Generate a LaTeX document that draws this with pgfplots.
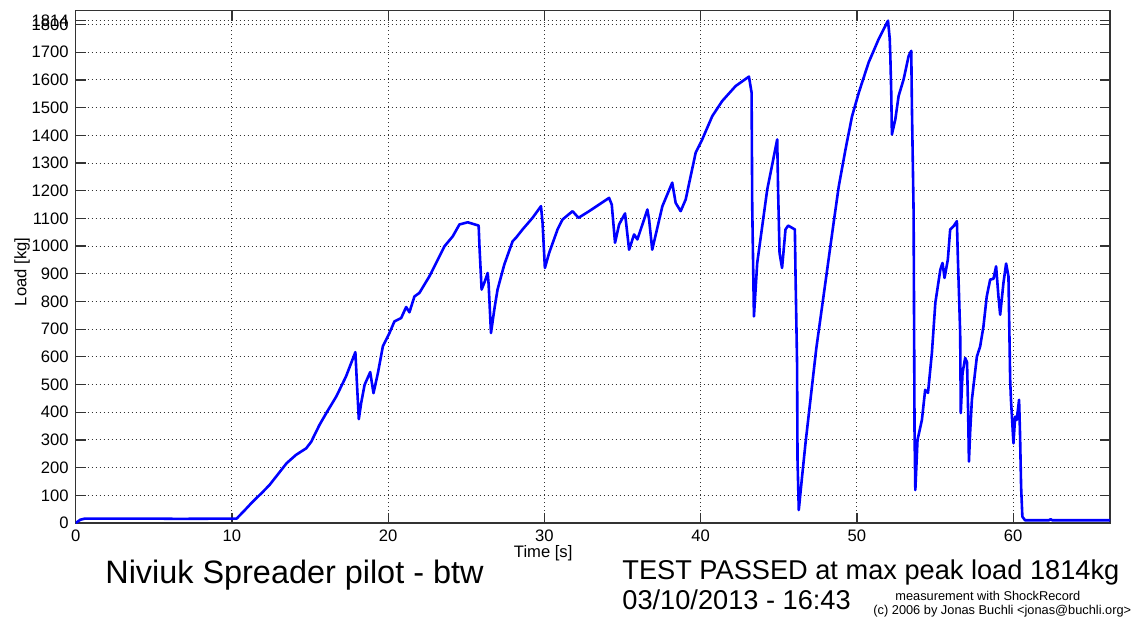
\documentclass[border=0pt]{standalone}
\usepackage{fontspec}
\setmainfont{Liberation Sans}
\usepackage{pgfplots}
\pgfplotsset{compat=1.18}

\begin{document}
\begin{tikzpicture}
\useasboundingbox (-37.85pt,-47.5pt) rectangle (528.65pt,261.5pt);
\begin{axis}[
  at={(0,0)}, anchor=south west,
  scale only axis,
  width=517.15pt, height=256.15pt,
  xmin=0, xmax=66.2, ymin=0, ymax=1850,
  xtick={0,10,...,60},
  ytick={0,100,...,1800},
  extra y ticks={1814},
  extra y tick style={grid=major},
  grid=major,
  major grid style={black!80, line width=0.5pt, dash pattern=on 0.5pt off 1.5pt},
  tick align=inside,
  major tick length=5pt,
  axis line style={black!80, line width=0.6pt},
  every tick/.style={black!80, line width=0.6pt},
  ticklabel style={font=\fontsize{8.3}{10}\selectfont},
  /pgf/number format/assume math mode=true,
  /pgf/number format/1000 sep={},
  xlabel={Time [s]},
  ylabel={Load [kg]},
  label style={font=\fontsize{8.3}{10}\selectfont},
  xlabel style={at={(axis description cs:0.452,-0.0675)}, anchor=base},
  ylabel style={at={(axis description cs:-0.0519,0.49)}, anchor=center},
]
\addplot[blue, line width=1.3pt, line join=round] coordinates {
(0,0) (0.3,12) (0.6,16) (5,16) (6.5,15) (10.0,16) (10.3,16)
(10.8,45) (11.33,77) (11.9,108) (12.4,137) (13.0,180) (13.5,216)
(14.1,246) (14.76,270) (15.08,294) (15.6,354) (16.04,397) (16.68,457)
(17.3,529) (17.9,617) (18.0,505) (18.12,375) (18.27,433) (18.49,499)
(18.85,545) (19.06,469) (19.34,541) (19.66,638) (20.08,686) (20.4,728)
(20.83,740) (21.15,780) (21.36,761) (21.68,818) (22.0,831) (22.64,891)
(23.07,939) (23.6,999) (24.13,1035) (24.56,1078) (25.09,1086) (25.79,1074)
(25.85,990) (25.98,843) (26.15,867) (26.37,903) (26.43,861) (26.58,686)
(26.79,770) (27.0,843) (27.43,933) (27.96,1017) (28.18,1030) (28.6,1060)
(29.24,1102) (29.78,1144) (29.88,1084) (30.03,921) (30.3,975) (30.84,1060)
(31.16,1096) (31.8,1126) (32.18,1102) (32.86,1126) (33.5,1150) (34.14,1174)
(34.31,1150) (34.52,1012) (34.78,1078) (35.16,1118) (35.42,987) (35.74,1042)
(35.95,1024) (36.59,1132) (36.7,1096) (36.9,987) (37.55,1144) (38.18,1229)
(38.4,1156) (38.72,1126) (39.04,1168) (39.68,1337) (40.1,1385) (40.74,1469)
(41.38,1524) (42.24,1578) (43.09,1612) (43.26,1554) (43.3,1144) (43.41,746)
(43.62,939) (44.26,1204) (44.9,1385) (44.96,1192) (45.05,975) (45.21,921)
(45.43,1060) (45.6,1074) (46.03,1060) (46.07,903) (46.17,578) (46.2,228)
(46.28,47) (46.49,167) (46.71,288) (47.4,630) (48.0,875) (48.5,1080)
(48.84,1216) (49.27,1349) (49.69,1469) (50.12,1554) (50.75,1663) (51.39,1747)
(51.99,1814) (52.1,1750) (52.14,1686) (52.2,1550) (52.24,1403) (52.46,1458)
(52.67,1542) (52.99,1602) (53.31,1686) (53.48,1705) (53.52,1506) (53.63,1120)
(53.66,722) (53.69,324) (53.74,119) (53.88,300) (54.16,372) (54.37,481)
(54.55,470) (54.8,614) (55.02,795) (55.34,915) (55.48,939) (55.61,885)
(55.82,951) (55.97,1060) (56.19,1072) (56.4,1090) (56.46,963) (56.61,686)
(56.65,397) (56.76,541) (56.93,596) (57.05,580) (57.12,400) (57.17,222)
(57.25,330) (57.36,445) (57.68,601) (57.89,638) (58.1,710) (58.31,818)
(58.53,879) (58.74,882) (58.91,927) (59.06,818) (59.17,752) (59.38,867)
(59.55,937) (59.7,891) (59.76,686) (59.81,517) (59.86,445) (59.91,397)
(60.02,288) (60.13,384) (60.23,372) (60.38,445) (60.44,324) (60.51,131)
(60.59,23) (60.76,10) (62.3,10) (62.4,14) (62.5,10) (66.2,10)
};
\end{axis}
\node[anchor=base west, inner sep=0pt, font=\fontsize{16.2}{18}\selectfont] at (14.65pt,-30.3pt) {Niviuk Spreader pilot - btw};
\node[anchor=base west, inner sep=0pt, font=\fontsize{13.6}{15}\selectfont] at (273.15pt,-28.4pt) {TEST PASSED at max peak load 1814kg};
\node[anchor=base west, inner sep=0pt, font=\fontsize{13.6}{15}\selectfont] at (273.15pt,-43.4pt) {03/10/2013 - 16:43};
\node[anchor=base west, inner sep=0pt, font=\fontsize{6.4}{7}\selectfont] at (409.65pt,-38.5pt) {measurement with ShockRecord};
\node[anchor=base west, inner sep=0pt, font=\fontsize{6.4}{7}\selectfont] at (398.65pt,-45.5pt) {(c) 2006 by Jonas Buchli <jonas@buchli.org>};
\end{tikzpicture}
\end{document}
